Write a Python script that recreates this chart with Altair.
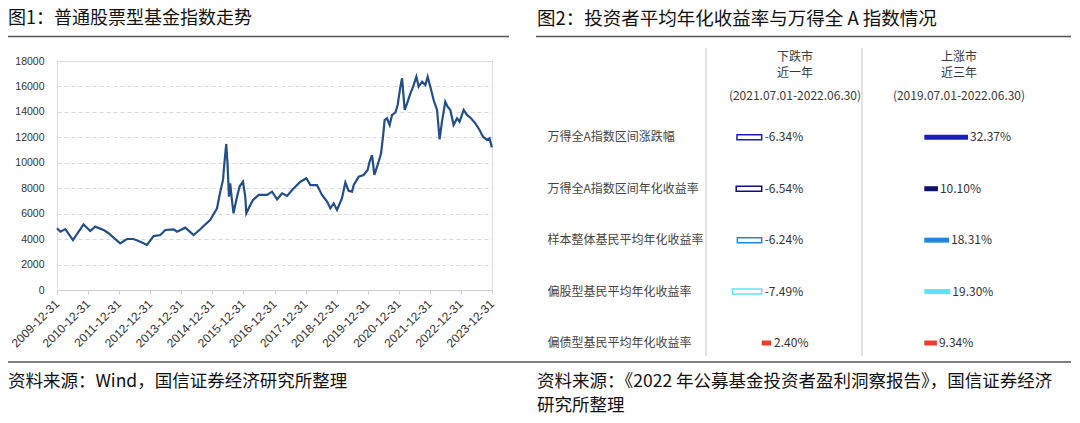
import altair as alt
import pandas as pd

# ---------------- data ----------------
LINE_DATES = [
    "2009-12-31", "2010-02-08", "2010-04-08", "2010-07-06", "2010-11-08", "2011-01-26",
    "2011-03-25", "2011-07-01", "2011-08-25", "2012-01-13", "2012-04-01", "2012-06-18",
    "2012-09-05", "2012-11-23", "2013-02-09", "2013-04-28", "2013-06-26", "2013-10-02",
    "2013-11-11", "2014-02-16", "2014-05-25", "2014-08-11", "2014-09-19", "2014-12-05",
    "2015-02-24", "2015-04-03", "2015-05-05", "2015-05-23", "2015-06-12", "2015-06-27",
    "2015-07-14", "2015-07-29", "2015-08-18", "2015-09-06", "2015-10-08", "2015-11-16",
    "2015-12-26", "2016-01-22", "2016-02-03", "2016-03-21", "2016-04-22", "2016-06-27",
    "2016-10-04", "2016-12-02", "2017-01-30", "2017-03-30", "2017-05-28", "2017-07-26",
    "2017-10-31", "2018-01-09", "2018-02-25", "2018-05-14", "2018-07-12", "2018-09-09",
    "2018-10-18", "2018-11-25", "2019-01-04", "2019-03-04", "2019-04-12", "2019-05-21",
    "2019-06-30", "2019-07-20", "2019-09-16", "2019-11-13", "2019-12-30", "2020-01-22",
    "2020-02-20", "2020-03-18", "2020-04-26", "2020-06-05", "2020-06-28", "2020-07-17",
    "2020-08-14", "2020-09-14", "2020-10-12", "2020-11-20", "2020-12-17", "2021-01-18",
    "2021-02-07", "2021-03-10", "2021-04-07", "2021-05-16", "2021-06-17", "2021-07-25",
    "2021-08-21", "2021-10-01", "2021-11-08", "2021-12-05", "2022-01-05", "2022-02-13",
    "2022-03-25", "2022-04-24", "2022-05-22", "2022-06-30", "2022-07-27", "2022-08-28",
    "2022-10-06", "2022-11-15", "2022-12-15", "2023-02-01", "2023-03-12", "2023-04-28",
    "2023-06-18", "2023-08-07", "2023-09-16", "2023-11-02", "2023-12-02", "2023-12-29",
]
LINE_VALUES = [
    4850, 4580, 4790, 3930, 5160, 4640,
    4980, 4720, 4480, 3670, 4010, 4010,
    3800, 3540, 4240, 4320, 4720, 4770,
    4580, 4900, 4320, 4770, 5030, 5500,
    6420, 7730, 8650, 10080, 11480, 9960,
    7330, 8390, 7070, 6030, 7070, 8130,
    8510, 7330, 6030, 6680, 7070, 7470,
    7470, 7730, 7130, 7600, 7390, 7860,
    8510, 8780, 8250, 8250, 7470, 6950,
    6420, 6810, 6290, 7210, 8450, 7800,
    7730, 8250, 8910, 9040, 9430, 10080,
    10610, 9040, 9830, 10740, 12050, 13360,
    13500, 12970, 13760, 13940, 14540, 15980,
    16640, 14150, 14670, 15460, 15980, 16770,
    15980, 16370, 16110, 16770, 15980, 14930,
    14150, 11850, 13230, 14800, 14410, 14150,
    12970, 13500, 13230, 14150, 13760, 13500,
    13100, 12580, 12050, 11790, 11920, 11210,
]
Y_TICKS = [0, 2000, 4000, 6000, 8000, 10000, 12000, 14000, 16000, 18000]
X_TICK_YEARS = list(range(2009, 2024))

ROWS = [
    "万得全A指数区间涨跌幅",
    "万得全A指数区间年化收益率",
    "样本整体基民平均年化收益率",
    "偏股型基民平均年化收益率",
    "偏债型基民平均年化收益率",
]
DOWN_VALUES = [-6.34, -6.54, -6.24, -7.49, 2.40]
UP_VALUES = [32.37, 10.10, 18.31, 19.30, 9.34]
ROW_COLORS = ["#1c1cc0", "#10106e", "#1e88e0", "#5ee4f0", "#e8402c"]
HEADERS_DOWN = ["下跌市", "近一年", "(2021.07.01-2022.06.30)"]
HEADERS_UP = ["上涨市", "近三年", "(2019.07.01-2022.06.30)"]

TITLE1 = "图1：普通股票型基金指数走势"
TITLE2 = "图2：投资者平均年化收益率与万得全 A 指数情况"
SOURCE1 = "资料来源：Wind，国信证券经济研究所整理"
SOURCE2 = ["资料来源：《2022 年公募基金投资者盈利洞察报告》，国信证券经济", "研究所整理"]

CJK = "Noto Sans CJK SC"
LAT = "Liberation Sans"

# ---------------- layout (plot area of the line chart) ----------------
W, H = 435, 229
PAD = {"left": 49, "top": 53, "right": 580, "bottom": 125}


def one_row(**kw):
    return alt.Chart(pd.DataFrame({k: [v] for k, v in kw.items()}))


def text_at(txt, x, y, size, color="#222222", align="left", font=CJK):
    return one_row(t=txt).mark_text(
        align=align, baseline="middle", fontSize=size, font=font, color=color
    ).encode(text="t:N", x=alt.value(x), y=alt.value(y))


def hrule(x1, x2, y, color="#555555", width=1.5):
    return one_row(a=0).mark_rule(color=color, strokeWidth=width).encode(
        x=alt.value(x1), x2=alt.value(x2), y=alt.value(y)
    )


def vrule(x, y1, y2, color="#c8c8c8", width=1):
    return one_row(a=0).mark_rule(color=color, strokeWidth=width).encode(
        x=alt.value(x), y=alt.value(y1), y2=alt.value(y2)
    )


# ---------------- line chart ----------------
line_df = pd.DataFrame({"date": LINE_DATES, "value": LINE_VALUES})
x_ticks = [alt.DateTime(year=y, month=12, date=31, utc=True) for y in X_TICK_YEARS]

line = alt.Chart(line_df).mark_line(color="#234e86", strokeWidth=2.2).encode(
    x=alt.X(
        "date:T",
        scale=alt.Scale(
            type="utc",
            domain=[x_ticks[0], x_ticks[-1]],
            nice=False,
        ),
        axis=alt.Axis(
            values=x_ticks, format="%Y-%m-%d", labelAngle=-45, labelFontSize=12,
            labelFont=LAT, labelColor="#333333", domainColor="#d0d0d0", tickColor="#d0d0d0",
            tickSize=4, grid=False, title=None, labelPadding=4, labelOffset=-4,
            labelOverlap=False, labelFlush=False, labelBound=False,
        ),
    ),
    y=alt.Y(
        "value:Q",
        scale=alt.Scale(domain=[0, 18000], nice=False),
        axis=alt.Axis(
            values=Y_TICKS, format="d", grid=True, gridDash=[4, 3], gridColor="#d9d9d9",
            domain=False, ticks=False, labelPadding=13, labelFontSize=10.5, labelFont=LAT,
            labelColor="#333333", title=None,
        ),
    ),
)

# ---------------- table / bar panel ----------------
tab_df = pd.DataFrame({
    "row": ROWS,
    "down": DOWN_VALUES,
    "up": UP_VALUES,
    "down_label": [f"{v:.2f}%" for v in DOWN_VALUES],
    "up_label": [f"{v:.2f}%" for v in UP_VALUES],
})
base = alt.Chart(tab_df)

ys = alt.Scale(type="point", domain=ROWS, range=[76.3, 282], padding=0)
xs_down = alt.Scale(domain=[-10, 5], range=[665.7, 724.2], nice=False, zero=True)
xs_up = alt.Scale(domain=[0, 40], range=[867.3, 921.3], nice=False, zero=True)
col_scale = alt.Scale(domain=ROWS, range=ROW_COLORS)

Y_ROW = alt.Y("row:N", scale=ys, axis=None)

down_neg = base.transform_filter("datum.down < 0").mark_bar(
    height=5, fill="white", strokeWidth=1.5
).encode(
    x=alt.X("down:Q", scale=xs_down, axis=None),
    y=Y_ROW,
    stroke=alt.Stroke("row:N", scale=col_scale, legend=None),
)
down_pos = base.transform_filter("datum.down >= 0").mark_bar(height=5).encode(
    x=alt.X("down:Q", scale=xs_down, axis=None),
    y=Y_ROW,
    color=alt.Color("row:N", scale=col_scale, legend=None),
)
down_txt = base.transform_calculate(pos="max(datum.down, 0)").mark_text(
    align="left", baseline="middle", dx=3, fontSize=12, font=CJK, color="#333333"
).encode(
    x=alt.X("pos:Q", scale=xs_down, axis=None),
    y=Y_ROW,
    text="down_label:N",
)
up_bar = base.mark_bar(height=5).encode(
    x=alt.X("up:Q", scale=xs_up, axis=None),
    y=Y_ROW,
    color=alt.Color("row:N", scale=col_scale, legend=None),
)
up_txt = base.mark_text(
    align="left", baseline="middle", dx=2, fontSize=12, font=CJK, color="#333333"
).encode(
    x=alt.X("up:Q", scale=xs_up, axis=None),
    y=Y_ROW,
    text="up_label:N",
)
row_txt = base.mark_text(
    align="left", baseline="middle", fontSize=12, font=CJK, color="#444444"
).encode(
    x=alt.value(490.5),
    y=Y_ROW,
    text="row:N",
)

# headers
hdr = []
for i, yy in enumerate([-4.5, 12, 34.5]):
    hdr.append(text_at(HEADERS_DOWN[i], 738, yy, 12, color="#3a3a3a", align="center"))
    hdr.append(text_at(HEADERS_UP[i], 902, yy, 12, color="#3a3a3a", align="center"))

# ---------------- decorations ----------------
decor = [
    text_at(TITLE1, -49, -42, 18, color="#111111"),
    hrule(-49, 452, -24.5),
    text_at(TITLE2, 480, -42, 18.5, color="#111111"),
    hrule(479, 1014, -24.5),
    hrule(-49, 1014, 301),
    text_at(SOURCE1, -49, 321, 17.5, color="#111111"),
    text_at(SOURCE2[0], 480, 320.5, 17.5, color="#111111"),
    text_at(SOURCE2[1], 480, 345, 17.5, color="#111111"),
    vrule(649, -13, 295),
    vrule(805, -13, 295),
]

chart = alt.layer(
    line, down_neg, down_pos, down_txt, up_bar, up_txt, row_txt, *hdr, *decor
).resolve_scale(
    x="independent", y="independent", color="independent", stroke="independent"
).properties(
    width=W, height=H, padding=PAD, autosize=alt.AutoSizeParams(type="none")
).configure_view(stroke=None).configure(background="white")

chart.save("out.html", embed_options={"renderer": "svg", "actions": False})
